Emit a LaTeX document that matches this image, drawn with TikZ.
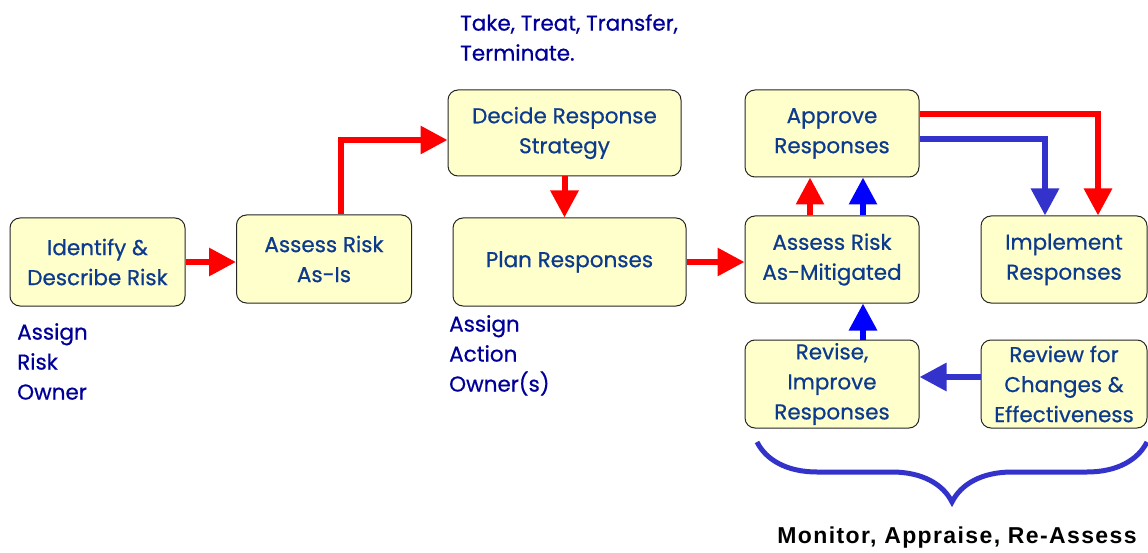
\documentclass[tikz,border=0pt]{standalone}
\usepackage{fontspec}
\setmainfont{Poppins}[FakeBold=0.6]
\newfontfamily\captionfont{Liberation Sans}[LetterSpace=6]
\usetikzlibrary{arrows.meta, decorations.pathreplacing}
\definecolor{boxfill}{HTML}{FFFFCC}
\definecolor{boxtext}{HTML}{0B3A8E}
\definecolor{notetext}{HTML}{000099}
\definecolor{flowred}{HTML}{FF0000}
\definecolor{flowblue}{HTML}{0000FF}
\definecolor{loopblue}{HTML}{3333CC}

\begin{document}
\begin{tikzpicture}[
         x=1pt, y=-1pt,
         process/.style={draw=black!85, fill=boxfill, rounded corners=10pt, line width=1pt,
            text=boxtext, font=\fontsize{21.5}{30}\selectfont, align=center,
            minimum width=175pt, minimum height=88pt, inner sep=0pt},
         note/.style={text=notetext, font=\fontsize{21.5}{30}\selectfont, align=left,
            anchor=north west, inner sep=0pt},
         caption/.style={font=\captionfont\bfseries\fontsize{23}{26}\selectfont},
         flow/.style={line width=6pt, -{Triangle[length=27pt,width=27pt]}},
         brace/.style={draw=loopblue, line width=5pt, decorate, decoration={brace, amplitude=60pt}}
      ]
         \useasboundingbox (0,0) rectangle (1148,553);

         % Process boxes
         \node[process] (identify) at (97.5,262) {Identify \&\\Describe Risk};
         \node[process] (asis) at (324,259) {Assess Risk\\As-Is};
         \node[process, minimum width=233pt, minimum height=86pt] (decide) at (564.5,133) {Decide Response\\Strategy};
         \node[process, minimum width=233pt] (plan) at (569.5,262) {Plan Responses};
         \node[process, minimum width=174pt, minimum height=87pt] (approve) at (832,133.5) {Approve\\Responses};
         \node[process, minimum width=174pt, minimum height=87pt] (mitigated) at (832,259.5) {Assess Risk\\As-Mitigated};
         \node[process, minimum width=166pt, minimum height=87pt] (implement) at (1064,259.5) {Implement\\Responses};
         \node[process, minimum width=174pt] (revise) at (832,384) {Revise,\\Improve\\Responses};
         \node[process, minimum width=166pt] (review) at (1064,384) {Review for\\Changes \&\\Effectiveness};

         % Notes
         \node[note] (strategies) at (460,14) {Take, Treat, Transfer,\\Terminate.};
         \node[note] (riskowner) at (17,323) {Assign\\Risk\\Owner};
         \node[note] (actionowner) at (449,315) {Assign\\Action\\Owner(s)};

         % Main flow
         \draw[flow, flowred] (identify.east) -- (identify.east -| asis.west);
         \draw[flow, flowred] ([xshift=17pt]asis.north) |- ([yshift=-7pt]decide.west);
         \draw[flow, flowred] (decide.south) -- (decide.south |- plan.north);
         \draw[flow, flowred] (plan.east) -- (plan.east -| mitigated.west);
         \draw[flow, flowred] ([xshift=-22pt]mitigated.north) -- ([xshift=-22pt]approve.south);
         \draw[flow, flowred] ([yshift=19.5pt]approve.east) -| ([xshift=34pt]implement.north);

         % Review loop
         \draw[flow, flowblue] ([xshift=31pt]mitigated.north) -- ([xshift=31pt]approve.south);
         \draw[flow, loopblue] ([yshift=-5.5pt]approve.east) -| ([xshift=-19pt]implement.north);
         \draw[flow, flowblue] ([xshift=31pt]revise.north) -- ([xshift=31pt]mitigated.south);
         \draw[flow, loopblue] ([yshift=7pt]review.west) -- ([yshift=7pt]revise.east);

         % Brace and caption
         \draw[brace] (1147,442) -- (757,442);
         \node[caption] (monitor) at (957,538) {Monitor, Appraise, Re-Assess};

      \end{tikzpicture}
\end{document}
